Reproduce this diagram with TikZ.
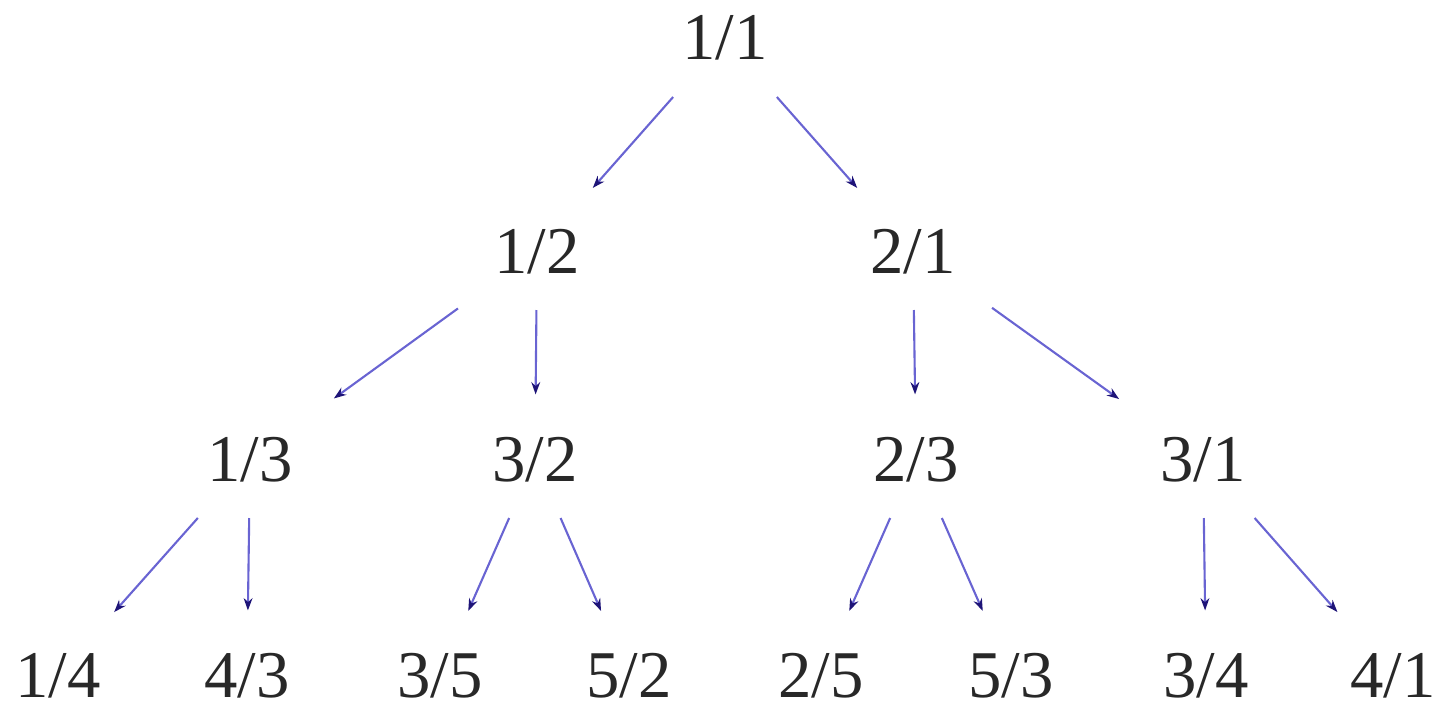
\documentclass[tikz,border=0pt]{standalone}
\usepackage{fontspec}
\setmainfont{Liberation Serif}
\usepackage{tikz}
\usetikzlibrary{positioning, arrows.meta}

\definecolor{edgeblue}{RGB}{105,100,210}
\definecolor{headblue}{RGB}{30,20,120}
\definecolor{textgray}{RGB}{40,40,40}

\begin{document}
\begin{tikzpicture}[
        ratio/.style={anchor=base, text=textgray, inner sep=0.72cm, font=\fontsize{38}{40}\selectfont},
        link/.style={->, >={Stealth[length=7pt, width=5pt, color=headblue]}, line width=1.2pt, draw=edgeblue, shorten >=0.12cm}
    ]
    \useasboundingbox (0,0) rectangle (28.82,-14.06);

    % Top level
    \node[ratio] (q11) at (14.50, -1.20) {1/1};

    % Second level
    \node[ratio] (q12) at (10.74, -5.46) {1/2};
    \node[ratio] (q21) at (18.26, -5.46) {2/1};

    % Third level
    \node[ratio] (q13) at (5.00, -9.62) {1/3};
    \node[ratio] (q32) at (10.70, -9.62) {3/2};
    \node[ratio] (q23) at (18.32, -9.62) {2/3};
    \node[ratio] (q31) at (24.06, -9.62) {3/1};

    % Bottom level
    \node[ratio] (q14) at (1.16, -13.94) {1/4};
    \node[ratio] (q43) at (4.94, -13.94) {4/3};
    \node[ratio] (q35) at (8.80, -13.94) {3/5};
    \node[ratio] (q52) at (12.58, -13.94) {5/2};
    \node[ratio] (q25) at (16.42, -13.94) {2/5};
    \node[ratio] (q53) at (20.22, -13.94) {5/3};
    \node[ratio] (q34) at (24.12, -13.94) {3/4};
    \node[ratio] (q41) at (27.86, -13.94) {4/1};

    \draw[link] (q11) -- (q12);
    \draw[link] (q11) -- (q21);
    \draw[link] (q12) -- (q13);
    \draw[link] (q12) -- (q32);
    \draw[link] (q21) -- (q23);
    \draw[link] (q21) -- (q31);
    \draw[link] (q13) -- (q14);
    \draw[link] (q13) -- (q43);
    \draw[link] (q32) -- (q35);
    \draw[link] (q32) -- (q52);
    \draw[link] (q23) -- (q25);
    \draw[link] (q23) -- (q53);
    \draw[link] (q31) -- (q34);
    \draw[link] (q31) -- (q41);
\end{tikzpicture}
\end{document}
